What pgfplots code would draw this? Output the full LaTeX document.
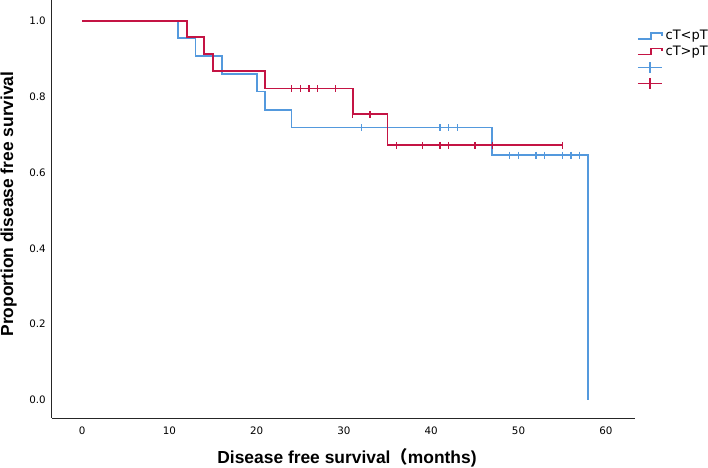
\documentclass[border=0pt]{standalone}
\usepackage{pgfplots}
\pgfplotsset{compat=1.18}
\usepackage{fontspec}
\setmainfont{DejaVu Sans}
\newfontfamily\labfont{Liberation Sans}
\newfontfamily\cjk{Noto Sans CJK SC}
\definecolor{kmblue}{RGB}{84,153,221}
\definecolor{kmred}{RGB}{196,20,68}
\begin{document}
\begin{tikzpicture}
\useasboundingbox (-52pt,-49pt) rectangle (656pt,418pt);
\begin{axis}[
  scale only axis, width=583pt, height=418pt,
  at={(0pt,0pt)}, anchor=south west,
  xmin=-3.44, xmax=63.34, ymin=-0.0476, ymax=1.0556,
  axis x line*=bottom, axis y line*=left,
  axis line style={-, line width=1pt, black!85},
  major tick length=0pt,
  xtick={0,10,20,30,40,50,60},
  ytick={0,0.2,0.4,0.6,0.8,1},
  /pgf/number format/assume math mode=true,
  yticklabel style={/pgf/number format/fixed, /pgf/number format/fixed zerofill, /pgf/number format/precision=1, xshift=-2.7pt},
  ticklabel style={font=\fontsize{10.3}{12}\selectfont},
  xticklabel style={yshift=-5.5pt},
  xlabel={\labfont\bfseries Disease free survival{\cjk （}months)},
  ylabel={\labfont\bfseries Proportion disease free survival},
  xlabel style={at={(axis description cs:0.506,-0.0957)}, anchor=center, font=\fontsize{17.4}{20}\selectfont},
  ylabel style={at={(axis description cs:-0.0745,0.512)}, anchor=center, font=\fontsize{17.4}{20}\selectfont},
  clip=false,
  legend style={at={(axis description cs:1,1)}, anchor=north west, xshift=2pt, yshift=-30pt,
    draw=none, fill=none, inner sep=0pt, row sep=0pt, column sep=3pt,
    font=\fontsize{13}{15}\selectfont,
    nodes={inner sep=0pt, text height=9.5pt, text depth=6pt}},
  legend cell align=left,
]
\addplot[const plot, kmblue, line width=1.8pt,
  legend image code/.code={\draw[kmblue,line width=1.4pt] (0pt,-1pt) -- (13pt,-1pt) -- (13pt,5pt) -- (24pt,5pt) -- (24pt,2pt);}]
  coordinates {(0,1) (11,0.955) (13,0.907) (16,0.861) (20,0.814) (21,0.766) (24,0.719) (47,0.646) (58,0)};
\addlegendentry{cT<pT}
\addplot[const plot, kmred, line width=1.8pt,
  legend image code/.code={\draw[kmred,line width=1.4pt] (0pt,-1pt) -- (13pt,-1pt) -- (13pt,5pt) -- (24pt,5pt) -- (24pt,2pt);}]
  coordinates {(0,1) (12,0.957) (14,0.913) (15,0.868) (21,0.822) (31,0.754) (35,0.672) (55,0.672)};
\addlegendentry{cT>pT}
\addplot[only marks, mark=|, mark size=3.5pt, kmblue, mark options={line width=1.3pt},
  legend image code/.code={\draw[kmblue,line width=1.4pt] (0pt,2pt) -- (24pt,2pt); \draw[kmblue,line width=1.4pt] (12pt,-3.5pt) -- (12pt,7.5pt);}]
  coordinates {(32,0.719) (41,0.719) (42,0.719) (43,0.719)
    (49,0.646) (50,0.646) (52,0.646) (53,0.646) (55,0.646) (56,0.646) (57,0.646)};
\addlegendentry{}
\addplot[only marks, mark=|, mark size=3.5pt, kmred, mark options={line width=1.3pt},
  legend image code/.code={\draw[kmred,line width=1.4pt] (0pt,2pt) -- (24pt,2pt); \draw[kmred,line width=1.4pt] (12pt,-3.5pt) -- (12pt,7.5pt);}]
  coordinates {(24,0.822) (25,0.822) (26,0.822) (27,0.822) (29,0.822)
    (31,0.754) (33,0.754)
    (36,0.672) (39,0.672) (41,0.672) (42,0.672) (45,0.672) (47,0.672) (55,0.672)};
\addlegendentry{}
\end{axis}
\end{tikzpicture}
\end{document}
